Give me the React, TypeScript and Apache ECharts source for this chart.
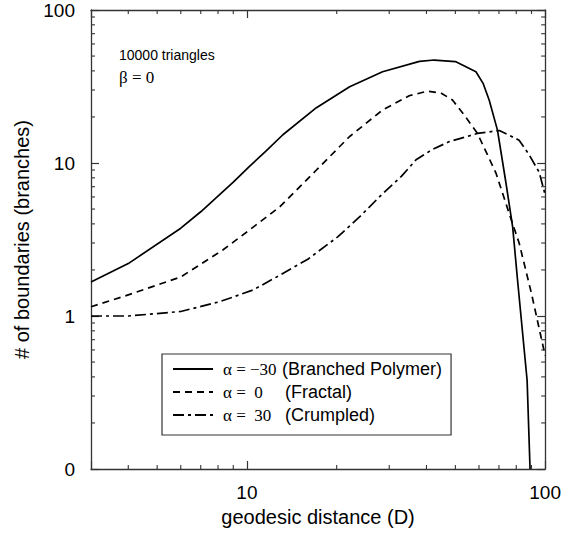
import React, { useEffect, useRef } from 'react';
import * as echarts from 'echarts';

// geodesic distance D and number of boundaries for each alpha
const solidD = [3, 4, 6, 7, 9, 10.2, 11.6, 13.2, 17.1, 22.1, 28.5, 37.9, 42.5, 50, 58.6, 62, 64.9, 69.2, 73.9, 77.8, 80.8, 87, 89];
const solidN = [1.67, 2.2, 3.75, 4.8, 7.5, 9.5, 12.0, 15.3, 23, 31.5, 39.5, 46.2, 47.1, 46, 39.5, 33, 25.8, 16.4, 7.4, 3.83, 1.72, 0.38, 0.1];

const dashD = [3, 3.85, 6, 8.3, 10.2, 12.9, 17.1, 22.1, 28.5, 35, 40.4, 45, 48.9, 53.5, 59.3, 68.4, 75.7, 81.8, 90, 100];
const dashN = [1.15, 1.34, 1.8, 2.7, 3.65, 5.18, 9.0, 14.9, 22.2, 27.5, 29.5, 28.5, 25.8, 20.6, 15.6, 8.6, 4.7, 3.0, 1.4, 0.55];

const dotD = [3, 4, 6, 8.1, 10.5, 12.9, 16, 20.2, 24, 28.5, 33, 36.9, 42, 47.7, 59.3, 70.2, 81.8, 88.4, 95.5, 100];
const dotN = [1.0, 1.0, 1.07, 1.24, 1.48, 1.85, 2.35, 3.3, 4.5, 6.3, 8.2, 10.5, 12.3, 13.8, 15.6, 16.3, 14.1, 11.3, 8.7, 6.2];

const seriesNames = ['α = −30 (Branched Polymer)', 'α = 0 (Fractal)', 'α = 30 (Crumpled)'];
const legendAlpha = ['α = −30', 'α =  0', 'α =  30'];
const legendDesc = ['(Branched Polymer)', '(Fractal)', '(Crumpled)'];

const xMinorTicks = [4, 5, 6, 7, 8, 9, 20, 30, 40, 50, 60, 70, 80, 90];
const yMinorTicks = [0.2, 0.3, 0.4, 0.5, 0.6, 0.7, 0.8, 0.9, 2, 3, 4, 5, 6, 7, 8, 9, 20, 30, 40, 50, 60, 70, 80, 90];
const xTickLabels = [10, 100];
const yTickLabels: [number, string][] = [[0.1, '0'], [1, '1'], [10, '10'], [100, '100']];

const AXIS_COLOR = '#333';
const SANS = '"Liberation Sans", Arial, sans-serif';
const SERIF = '"Liberation Serif", "Times New Roman", serif';

function near(a: number, b: number) {
  return Math.abs(a - b) < 1e-6 * Math.max(1, Math.abs(b));
}

function minorTickSeries(vals: number[], dir: 'x' | 'y') {
  return {
    type: 'custom',
    coordinateSystem: 'cartesian2d',
    xAxisIndex: 0,
    yAxisIndex: 0,
    silent: true,
    clip: false,
    z: 5,
    data: vals.map((v) => (dir === 'x' ? [v, 1] : [10, v])),
    encode: { x: 0, y: 1 },
    renderItem: (params: any, api: any) => {
      const cs = params.coordSys;
      const p = api.coord([api.value(0), api.value(1)]);
      const style = { stroke: AXIS_COLOR, lineWidth: 1.1 };
      const L = 4;
      if (dir === 'x') {
        const b = cs.y + cs.height;
        const t = cs.y;
        return {
          type: 'group',
          children: [
            { type: 'line', shape: { x1: p[0], y1: b, x2: p[0], y2: b - L }, style },
            { type: 'line', shape: { x1: p[0], y1: t, x2: p[0], y2: t + L }, style },
          ],
        };
      }
      const l = cs.x;
      const r = cs.x + cs.width;
      return {
        type: 'group',
        children: [
          { type: 'line', shape: { x1: l, y1: p[1], x2: l + L, y2: p[1] }, style },
          { type: 'line', shape: { x1: r, y1: p[1], x2: r - L, y2: p[1] }, style },
        ],
      };
    },
  };
}

export default function App() {
  const ref = useRef<HTMLDivElement>(null);

  useEffect(() => {
    document.body.style.margin = '0';
    if (!ref.current) return;
    const chart = echarts.init(ref.current, null, { renderer: 'svg' });

    const axisLine = { show: true, lineStyle: { color: AXIS_COLOR, width: 1.3 } };
    const majorTick = { show: true, inside: true, length: 8, lineStyle: { color: AXIS_COLOR, width: 1.2 } };

    const xFmt = (v: number) => (xTickLabels.some((t) => near(v, t)) ? String(Math.round(v)) : '');
    const yFmt = (v: number) => {
      const f = yTickLabels.find((t) => near(v, t[0]));
      return f ? f[1] : '';
    };

    const lineSeries = (name: string, d: number[], n: number[], type: any) => ({
      name,
      type: 'line',
      xAxisIndex: 0,
      yAxisIndex: 0,
      data: d.map((x, i) => [x, n[i]]),
      symbol: 'none',
      showSymbol: false,
      smooth: false,
      clip: true,
      z: 3,
      lineStyle: { color: '#000', width: 1.7, type },
      itemStyle: { color: '#000' },
    });

    const rich: any = {
      b: { fontFamily: SANS, fontSize: 18, color: '#000' },
      a0: { fontFamily: SERIF, fontSize: 17, color: '#000', width: 59, padding: [0, 0, 0, 5] },
      a1: { fontFamily: SERIF, fontSize: 17, color: '#000', width: 62, padding: [0, 0, 0, 5] },
      a2: { fontFamily: SERIF, fontSize: 17, color: '#000', width: 62, padding: [0, 0, 0, 5] },
    };

    const option: any = {
      animation: false,
      backgroundColor: '#fff',
      grid: { left: 91, right: 18, top: 10, bottom: 66, containLabel: false },
      xAxis: [
        {
          type: 'log',
          logBase: 10,
          min: 3,
          max: 100,
          position: 'bottom',
          name: 'geodesic distance (D)',
          nameLocation: 'middle',
          nameGap: 38,
          nameTextStyle: { fontFamily: SANS, fontSize: 20, color: '#000' },
          axisLine,
          axisTick: majorTick,
          axisLabel: { formatter: xFmt, fontFamily: SANS, fontSize: 19, color: '#000', margin: 14 },
          splitLine: { show: false },
        },
        {
          type: 'log',
          logBase: 10,
          min: 3,
          max: 100,
          position: 'top',
          axisLine,
          axisTick: majorTick,
          axisLabel: { show: false },
          splitLine: { show: false },
        },
      ],
      yAxis: [
        {
          type: 'log',
          logBase: 10,
          min: 0.1,
          max: 100,
          position: 'left',
          name: '# of boundaries (branches)',
          nameLocation: 'middle',
          nameGap: 59,
          nameTextStyle: { fontFamily: SANS, fontSize: 20, color: '#000' },
          axisLine,
          axisTick: majorTick,
          axisLabel: { formatter: yFmt, fontFamily: SANS, fontSize: 19, color: '#000', margin: 16 },
          splitLine: { show: false },
        },
        {
          type: 'log',
          logBase: 10,
          min: 0.1,
          max: 100,
          position: 'right',
          axisLine,
          axisTick: majorTick,
          axisLabel: { show: false },
          splitLine: { show: false },
        },
      ],
      legend: {
        data: seriesNames,
        orient: 'vertical',
        left: 162,
        top: 354,
        itemWidth: 40,
        itemHeight: 14,
        itemGap: 5,
        padding: [6, 9, 11, 10],
        borderColor: AXIS_COLOR,
        borderWidth: 1.2,
        backgroundColor: '#fff',
        selectedMode: false,
        itemStyle: { opacity: 0, borderWidth: 0 },
        textStyle: { rich, color: '#000' },
        formatter: (name: string) => {
          const i = seriesNames.indexOf(name);
          return `{a${i}|${legendAlpha[i]}}{b|${legendDesc[i]}}`;
        },
      },
      graphic: [
        {
          type: 'text',
          left: 119,
          top: 48,
          style: { text: '10000 triangles', font: `14px ${SANS}`, fill: '#000' },
        },
        {
          type: 'text',
          left: 119,
          top: 69,
          style: { text: 'β = 0', font: `17px ${SERIF}`, fill: '#000' },
        },
      ],
      series: [
        lineSeries(seriesNames[0], solidD, solidN, 'solid'),
        lineSeries(seriesNames[1], dashD, dashN, [7, 5]),
        lineSeries(seriesNames[2], dotD, dotN, [11, 4, 3, 4]),
        minorTickSeries(xMinorTicks, 'x'),
        minorTickSeries(yMinorTicks, 'y'),
      ],
    };

    chart.setOption(option);
    return () => chart.dispose();
  }, []);

  return <div ref={ref} style={{ width: 564, height: 535 }} />;
}
